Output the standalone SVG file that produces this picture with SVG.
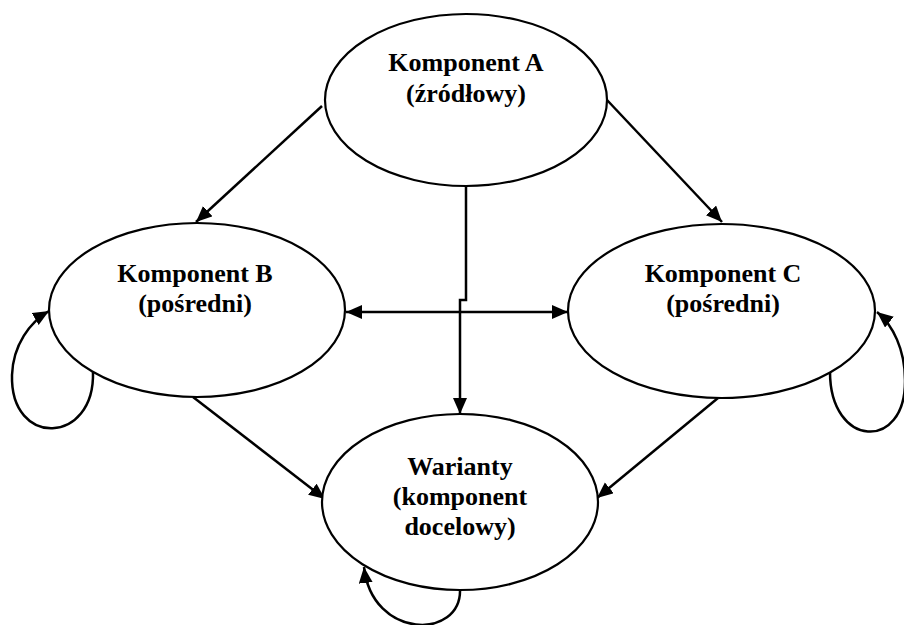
<svg xmlns="http://www.w3.org/2000/svg" width="904" height="625" viewBox="0 0 904 625">
<defs>
<marker id="ah" markerUnits="userSpaceOnUse" markerWidth="18" markerHeight="16" refX="16" refY="7" orient="auto-start-reverse">
<path d="M0,0 L16,7 L0,14 z" fill="#000"/>
</marker>
<style>
.n{fill:#fff;stroke:#000;stroke-width:2.2}
.t{font-family:'Liberation Serif','Times New Roman',serif;font-weight:bold;font-size:26px;text-anchor:middle;fill:#000}
.c{fill:none;stroke:#000;stroke-width:2.5}
</style>
</defs>
<rect width="904" height="625" fill="#fff"/>
<g id="connectors">
<path class="c" d="M322,106 L196,222" marker-end="url(#ah)"/>
<path class="c" d="M607,100 L722,222" marker-end="url(#ah)"/>
<path class="c" d="M346,312 L568,312" marker-start="url(#ah)" marker-end="url(#ah)"/>
<path class="c" d="M466,186 V300 H460 V414" marker-end="url(#ah)"/>
<path class="c" d="M193,397 L325,499" marker-end="url(#ah)"/>
<path class="c" d="M718,398 L597,498" marker-end="url(#ah)"/>
<path class="c" d="M93,372 C95,445 10,448 12,375 C13,345 30,322 49,311" marker-end="url(#ah)"/>
<path class="c" d="M830,372 C830,448 906,452 905,380 C905,350 893,325 877,312" marker-end="url(#ah)"/>
<path class="c" d="M460,589 C462,640 372,640 364,567" marker-end="url(#ah)"/>
</g>
<g id="nodeA">
<ellipse class="n" cx="466" cy="100" rx="141" ry="86"/>
<text class="t" font-family="Liberation Serif, serif" x="466" y="71">Komponent A</text>
<text class="t" font-family="Liberation Serif, serif" x="466" y="102">(źródłowy)</text>
</g>
<g id="nodeB">
<ellipse class="n" cx="197" cy="310" rx="148" ry="87"/>
<text class="t" font-family="Liberation Serif, serif" x="195" y="282">Komponent B</text>
<text class="t" font-family="Liberation Serif, serif" x="195" y="312">(pośredni)</text>
</g>
<g id="nodeC">
<ellipse class="n" cx="721.5" cy="311" rx="153.5" ry="87"/>
<text class="t" font-family="Liberation Serif, serif" x="723" y="282">Komponent C</text>
<text class="t" font-family="Liberation Serif, serif" x="723" y="312">(pośredni)</text>
</g>
<g id="nodeW">
<ellipse class="n" cx="460" cy="502" rx="138" ry="88"/>
<text class="t" font-family="Liberation Serif, serif" x="460" y="475">Warianty</text>
<text class="t" font-family="Liberation Serif, serif" x="460" y="505">(komponent</text>
<text class="t" font-family="Liberation Serif, serif" x="460" y="535">docelowy)</text>
</g>
</svg>
